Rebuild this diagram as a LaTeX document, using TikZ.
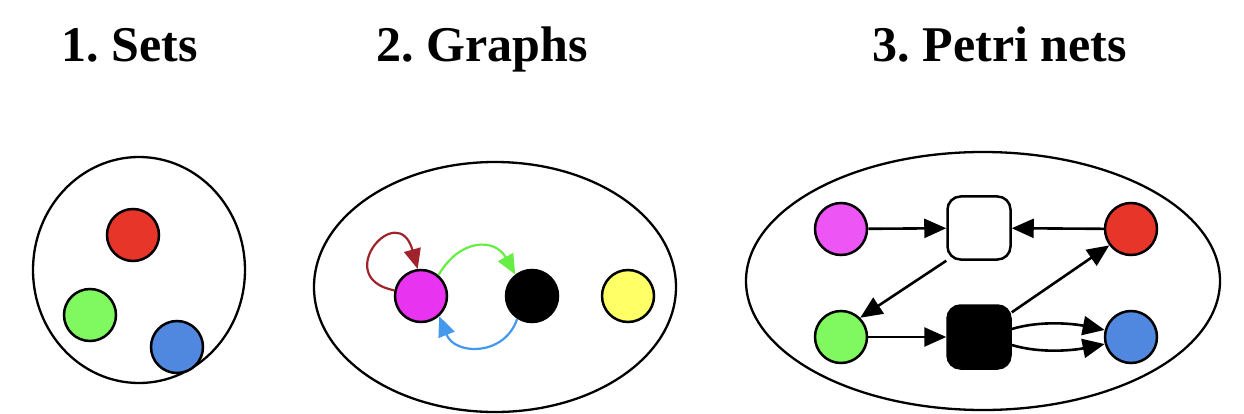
\documentclass[tikz,border=0pt]{standalone}
\usepackage{fontspec}
\newfontfamily\fa{Liberation Serif}
\usetikzlibrary{arrows.meta}
\frenchspacing
\definecolor{cred}{HTML}{E8352A}
\definecolor{cgreen}{HTML}{80F860}
\definecolor{cblue}{HTML}{5088E0}
\definecolor{cmag}{HTML}{E833F0}
\definecolor{cmagb}{HTML}{EE55F5}
\definecolor{cyel}{HTML}{FFFF66}
\definecolor{cloop}{HTML}{A0222A}
\definecolor{cgarc}{HTML}{66EE44}
\definecolor{cbarc}{HTML}{4499EE}
\tikzset{
  title/.style={font=\fa\fontsize{50}{50}\selectfont\bfseries\frenchspacing, anchor=base, inner sep=0},
  dot/.style={circle, draw=black, line width=2.5pt, minimum size=52pt, inner sep=0},
  set/.style={draw=black, line width=2.3pt},
  tbox/.style={draw=black, line width=2.5pt, rounded corners=13pt, minimum size=63pt, inner sep=0},
  garc/.style={line width=2.2pt, -{Triangle[length=20pt,width=17pt]}},
  parc/.style={line width=2.6pt, draw=black, -{Triangle[length=22pt,width=19pt]}},
}
\begin{document}
\begin{tikzpicture}[x=1pt,y=-1pt]
\useasboundingbox (0,0) rectangle (1244,414);
% titles
\node[title] (t1) at (130,62) {1. Sets};
\node[title] (t2) at (482,62) {2. Graphs};
\node[title] (t3) at (1000,62) {3. Petri nets};
% sets
\draw[set] (139,270) ellipse [x radius=106, y radius=113];
\node[dot, fill=cred] (sr) at (133,235) {};
\node[dot, fill=cgreen] (sg) at (90,315) {};
\node[dot, fill=cblue] (sb) at (177,347) {};
% graphs
\draw[set] (495,287) ellipse [x radius=181, y radius=125];
\node[dot, fill=cmag] (gm) at (421,296) {};
\node[dot, fill=black] (gk) at (532,296) {};
\node[dot, fill=cyel] (gy) at (628,296) {};
\draw[garc, draw=cloop] (gm.168) .. controls (330,278) and (398,198) .. (gm.97);
\draw[garc, draw=cgarc] (gm.50) .. controls (460,238) and (495,238) .. (gk.128);
\draw[garc, draw=cbarc] (gk.237) .. controls (505,356) and (455,356) .. (gm.-48);
% petri nets
\draw[set] (983,281) ellipse [x radius=237, y radius=129];
\node[dot, fill=cmagb] (pm) at (841,229) {};
\node[dot, fill=cred] (pr) at (1131,229) {};
\node[dot, fill=cgreen] (pg) at (841,337) {};
\node[dot, fill=cblue] (pb) at (1131,337) {};
\node[tbox, fill=white] (tw) at (979,228) {};
\node[tbox, fill=black] (tk) at (979,337) {};
\draw[parc] (pm) -- (tw);
\draw[parc] (pr) -- (tw);
\draw[parc] (tw.south west) -- (pg.45);
\draw[parc] (pg) -- (tk);
\draw[parc] (tk.37) -- (pr.217);
\draw[parc] ([yshift=8pt]tk.east) .. controls +(30,-9) and +(-30,-6) .. (pb.165);
\draw[parc] ([yshift=-8pt]tk.east) .. controls +(30,9) and +(-30,6) .. (pb.195);
\end{tikzpicture}
\end{document}
